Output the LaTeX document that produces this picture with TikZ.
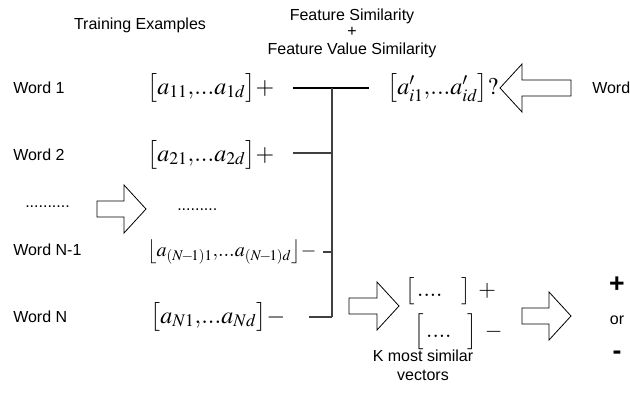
\documentclass[tikz,border=0pt]{standalone}
\usepackage{amsmath}
\usepackage{mathptmx}
\usepackage[no-math]{fontspec}
\setmainfont{Liberation Sans}
\usetikzlibrary{positioning}

\begin{document}
\begin{tikzpicture}[x=0.75pt,y=-0.75pt,
    lbl/.style={font=\fontsize{12}{14}\selectfont, inner sep=0pt},
    vec/.style={font=\fontsize{18}{22}\selectfont, inner sep=0pt, anchor=west},
    bus/.style={line width=0.8pt, draw=black!75},
    pics/hollow arrow/.style={code={
        \draw[line width=0.6pt] (0,-8) -- (#1-22,-8) -- (#1-22,-24) -- (#1,0)
          -- (#1-22,24) -- (#1-22,8) -- (0,8) -- cycle;}}]
  \useasboundingbox (0,0) rectangle (630,396);

  \node[lbl] (train) at (140,25) {Training Examples};
  \node[lbl] (fs) at (352,16) {Feature Similarity};
  \node[lbl] (plus) at (352,32) {+};
  \node[lbl] (fvs) at (352,50) {Feature Value Similarity};

  \node[lbl, anchor=west] (w1) at (13,88) {Word 1};
  \node[lbl, anchor=west] (w2) at (13,155) {Word 2};
  \node[lbl, anchor=west] (wdots) at (25,207) {..........};
  \node[lbl, anchor=west] (wn1) at (13,250) {Word N-1};
  \node[lbl, anchor=west] (wn) at (13,317) {Word N};

  \node[vec] (v1) at (147,88) {$\bigl[a_{11}{,}...a_{1d}\bigr]{+}$};
  \node[vec] (v2) at (147,155) {$\bigl[a_{21}{,}...a_{2d}\bigr]{+}$};
  \node[lbl, anchor=west] (vdots) at (177,210) {.........};
  \node[vec, font=\fontsize{15}{18}\selectfont] (vn1) at (147,252)
    {$\bigl\lfloor a_{(N\!-\!1)1}{,}...a_{(N\!-\!1)d}\bigr\rfloor{-}$};
  \node[vec] (vn) at (150,317) {$\bigl[a_{N1}{,}...a_{Nd}\bigr]{-}$};

  \node[vec] (vq) at (387,88) {$\bigl[a'_{i1}{,}...a'_{id}\bigr]?$};
  \node[lbl, anchor=west] (wq) at (592,88) {Word};

  \coordinate (b1) at (332,88);
  \coordinate (b2) at (332,153);
  \coordinate (b3) at (332,252);
  \coordinate (b4) at (332,317);
  \draw[line width=0.8pt] (293,88) -- (369,88);
  \draw[bus] (b1) -- (b4);
  \draw[bus] (293,153) -- (b2);
  \draw[bus] (323,252) -- (b3);
  \draw[bus] (309,317) -- (b4);

  \pic at (97,209) {hollow arrow=49};
  \pic[rotate=180] at (571,88) {hollow arrow=71};
  \pic at (349,306) {hollow arrow=50};
  \pic at (522,316) {hollow arrow=49};

  \node[vec, font=\fontsize{17}{20}\selectfont] (kpos) at (405,291)
    {$\bigl[\,....\hspace{14pt}\bigr]\hspace{6pt}+$};
  \node[vec, font=\fontsize{17}{20}\selectfont] (kneg) at (414,332)
    {{\fontsize{15}{17}\selectfont$\Bigl[$}$\,....\hspace{12pt}${\fontsize{15}{17}\selectfont$\Bigr]$}$\hspace{6pt}-$};
  \node[lbl] (kcap1) at (423,356) {K most similar};
  \node[lbl] (kcap2) at (423,375) {vectors};

  \node[lbl, font=\bfseries\fontsize{20}{22}\selectfont] (rpos) at (617,285) {+};
  \node[lbl] (ror) at (617,320) {or};
  \node[lbl, font=\bfseries\fontsize{20}{22}\selectfont] (rneg) at (617,355) {-};
\end{tikzpicture}
\end{document}
